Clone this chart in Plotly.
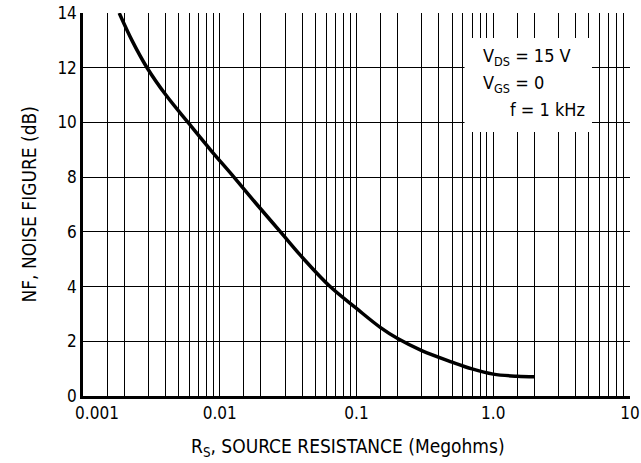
import plotly.graph_objects as go

# Data
rs_megohms = [0.00184, 0.00228, 0.00294, 0.00404, 0.00586, 0.00855, 0.0127, 0.0187,
              0.0278, 0.0413, 0.0641, 0.1, 0.15, 0.2, 0.3, 0.5, 0.7, 1.0, 1.5, 2.0]
nf_db = [14.0, 13.0, 12.0, 11.0, 10.0, 9.0, 8.0, 7.0,
         6.0, 5.0, 4.0, 3.2, 2.5, 2.1, 1.66, 1.24, 0.99, 0.80, 0.72, 0.70]

decades = [0.001, 0.01, 0.1, 1.0]
grid_mult = [1, 1.5, 2, 3, 4, 5, 6, 7, 8, 9]
x_label_vals = [0.01, 0.1, 1.0, 10]
x_label_text = ["0.01", "0.1", "1.0", "10"]
x_first_val = [0.001]
x_first_text = ["0.001"]
y_tick_vals = [0, 2, 4, 6, 8, 10, 12, 14]

FONT = "Liberation Sans Narrow, Arial Narrow, DejaVu Sans Condensed, sans-serif"

x_grid = [round(d * m, 6) for d in decades for m in grid_mult] + [10]
x_text = []
for v in x_grid:
    t = ""
    for lv, lt in zip(x_label_vals, x_label_text):
        if abs(v - lv) < 1e-9:
            t = lt
    x_text.append(t)

fig = go.Figure()
fig.add_trace(go.Scatter(
    x=rs_megohms, y=nf_db, mode="lines",
    line=dict(color="black", width=3.5, shape="spline", smoothing=1.0),
    hoverinfo="skip", showlegend=False,
))
# invisible copy bound to the secondary x axis (carries the shifted "0.001" label)
fig.add_trace(go.Scatter(
    x=rs_megohms, y=nf_db, mode="lines", xaxis="x2", opacity=0,
    line=dict(color="rgba(0,0,0,0)", width=0),
    hoverinfo="skip", showlegend=False,
))

fig.update_layout(
    width=641, height=463,
    margin=dict(l=83, r=11, t=13, b=67, autoexpand=False),
    paper_bgcolor="white", plot_bgcolor="white",
    font=dict(family=FONT, size=19, color="black"),
    showlegend=False,
    xaxis=dict(
        type="log", range=[-3, 1], automargin=False,
        tickmode="array", tickvals=x_grid, ticktext=x_text,
        showgrid=True, gridcolor="black", gridwidth=1,
        showline=True, linecolor="black", linewidth=2.5,
        ticks="", tickfont=dict(family=FONT, size=17),
        zeroline=False,
    ),
    xaxis2=dict(
        type="log", range=[-3, 1], overlaying="x", anchor="y", side="bottom",
        tickmode="array", tickvals=x_first_val, ticktext=x_first_text,
        ticklabelshift=14, showgrid=False, zeroline=False,
        showline=True, linecolor="rgba(0,0,0,0)", linewidth=2.5,
        ticks="", tickfont=dict(family=FONT, size=17), automargin=False,
    ),
    yaxis=dict(
        range=[0, 14], automargin=False,
        tickmode="array", tickvals=y_tick_vals,
        ticktext=[str(v) for v in y_tick_vals],
        showgrid=True, gridcolor="black", gridwidth=1,
        showline=True, linecolor="black", linewidth=2.5,
        ticks="", tickfont=dict(family=FONT, size=17),
        zeroline=False,
    ),
)

# White legend box covering the grid
fig.add_shape(type="rect", xref="paper", yref="paper",
              x0=0.6975, x1=0.9305, y0=0.6893, y1=0.9347,
              fillcolor="white", line=dict(width=0), layer="above")

fig.add_annotation(xref="paper", yref="paper", x=0.7276, y=0.884,
                   text="V<sub>DS</sub> = 15 V", showarrow=False,
                   xanchor="left", yanchor="middle", font=dict(size=18))
fig.add_annotation(xref="paper", yref="paper", x=0.7276, y=0.814,
                   text="V<sub>GS</sub> = 0", showarrow=False,
                   xanchor="left", yanchor="middle", font=dict(size=18))
fig.add_annotation(xref="paper", yref="paper", x=0.777, y=0.747,
                   text="f = 1 kHz", showarrow=False,
                   xanchor="left", yanchor="middle", font=dict(size=18))

# Axis titles
fig.add_annotation(xref="paper", yref="paper", x=(348 - 83) / 547, y=(396 - 447) / 383,
                   text="R<sub>S</sub>, SOURCE RESISTANCE (Megohms)", showarrow=False,
                   xanchor="center", yanchor="middle", font=dict(size=19))
fig.add_annotation(xref="paper", yref="paper", x=(28 - 83) / 547, y=0.5,
                   text="NF, NOISE FIGURE (dB)", showarrow=False, textangle=-90,
                   xanchor="center", yanchor="middle", font=dict(size=19))

fig.write_html(
    "out.html",
    config={"displayModeBar": False},
    post_script="document.body.style.margin='0';document.body.style.overflow='hidden';",
)
